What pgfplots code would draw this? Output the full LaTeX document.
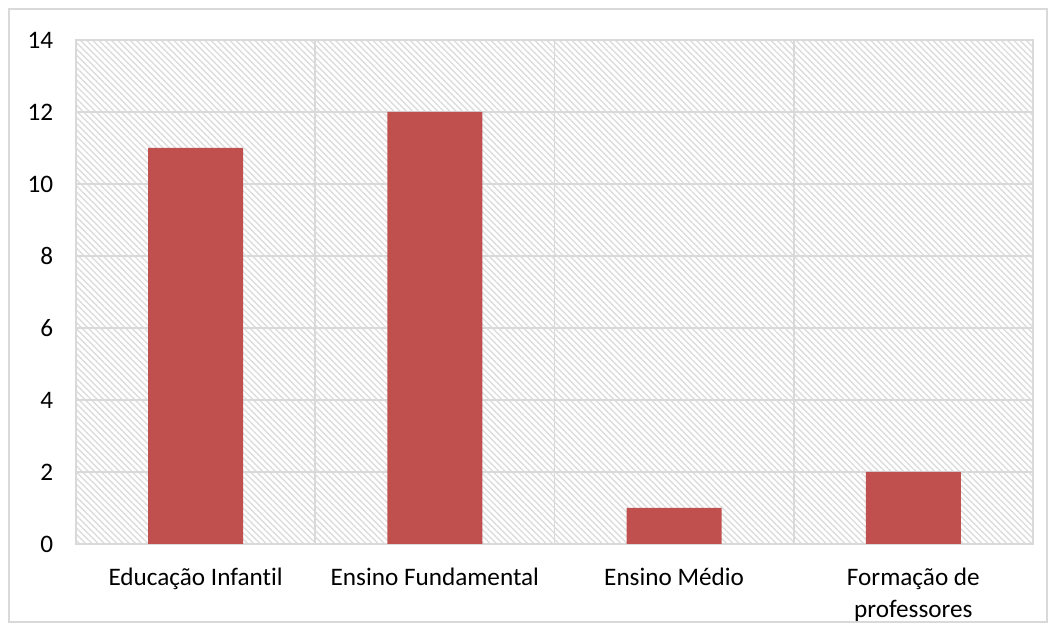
\documentclass[border=0pt]{standalone}
\usepackage{pgfplots}
\pgfplotsset{compat=1.18}
\usepackage{fontspec}
\setmainfont{Carlito}[RawFeature={-liga}]
\usetikzlibrary{patterns.meta}
\definecolor{barred}{HTML}{C0504D}
\definecolor{gridgray}{HTML}{D9D9D9}
\definecolor{hatch}{HTML}{DCDCDC}
\begin{document}
\begin{tikzpicture}
\fontsize{12.6}{16}\selectfont
\path[use as bounding box] (0,0) rectangle (528pt,316pt);
\draw[gridgray, line width=0.6pt] (4.5pt,5pt) rectangle (523.5pt,311.5pt);
\begin{axis}[
  at={(38pt,44pt)}, anchor=south west,
  scale only axis, width=478.5pt, height=252pt,
  xmin=-0.5, xmax=3.5, ymin=0, ymax=14,
  ytick={0,2,...,14},
  xtick={0,1,2,3},
  xticklabels={Educação Infantil, Ensino Fundamental, Ensino Médio, {Formação de\\professores}},
  minor xtick={-0.5,0.5,1.5,2.5,3.5},
  xminorgrids, ymajorgrids,
  major tick length=0pt, minor tick length=0pt,
  grid style={gridgray, line width=0.9pt},
  minor grid style={gridgray, line width=0.9pt},
  axis line style={gridgray, line width=0.9pt},
  axis background/.style={pattern={Lines[angle=-45, distance=2.2pt, line width=0.7pt]}, pattern color=hatch},
  yticklabel style={font=\fontsize{12.6}{16}\selectfont, xshift=-7pt},
  xticklabel style={font=\fontsize{12.6}{16}\selectfont, align=center, yshift=-7.5pt},
  /pgf/number format/assume math mode=true,
  ybar, bar width=47.5pt,
]
\addplot[fill=barred, draw=none] coordinates {(0,11) (1,12) (2,1) (3,2)};
\end{axis}
\end{tikzpicture}
\end{document}
